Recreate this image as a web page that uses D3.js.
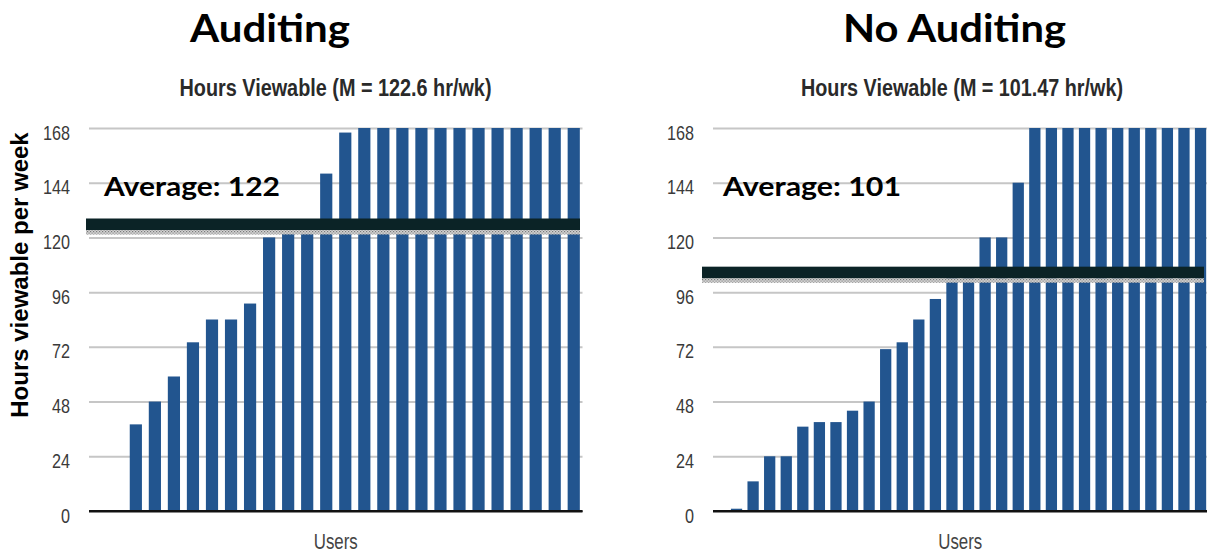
<!DOCTYPE html>
<html>
<head>
<meta charset="utf-8">
<script src="https://cdn.jsdelivr.net/npm/d3@7"></script>
<style>
  html, body { margin: 0; padding: 0; background: #fff; }
  svg { display: block; }
</style>
</head>
<body>
<svg id="chart" width="1207" height="555"></svg>
<script>
// Weekly viewable hours per user, sorted ascending
const auditingHours = [0, 0, 38, 48, 59, 74, 84, 84, 91, 120, 128, 128, 148, 166,
  168, 168, 168, 168, 168, 168, 168, 168, 168, 168, 168, 168];
const noAuditingHours = [0, 1, 13, 24, 24, 37, 39, 39, 44, 48, 71, 74, 84, 93, 103, 103,
  120, 120, 144, 168, 168, 168, 168, 168, 168, 168, 168, 168, 168, 168];

const auditingMean = 122.6;
const noAuditingMean = 101.47;

const panelTitles = ["Auditing", "No Auditing"];
const yTicks = [0, 24, 48, 72, 96, 120, 144, 168];
const yMax = 168;
const yAxisTitle = "Hours viewable per week";
const xAxisTitle = "Users";

const svg = d3.select("#chart");

// Stippled fill used for the original mean line
const defs = svg.append("defs");
const pat = defs.append("pattern")
  .attr("id", "stipple")
  .attr("width", 3).attr("height", 3)
  .attr("patternUnits", "userSpaceOnUse");
pat.append("rect").attr("width", 3).attr("height", 3).attr("fill", "#d2d2d2");
pat.append("rect").attr("x", 0).attr("y", 0).attr("width", 1.2).attr("height", 1.2).attr("fill", "#7a7a7a");
pat.append("rect").attr("x", 1.5).attr("y", 1.5).attr("width", 1.2).attr("height", 1.2).attr("fill", "#8a8a8a");

const y = d3.scaleLinear().domain([0, yMax]).range([511, 128]);

const panels = [
  { title: panelTitles[0], values: auditingHours, mean: auditingMean,
    x0: 89, x1: 582.5, padInner: 0.36, padOuter: 0.14,
    titleX: 270, titleW: 160, subX: 335.5, subW: 312,
    avgX: 104, avgW: 176, bandX0: 86, bandX1: 580 },
  { title: panelTitles[1], values: noAuditingHours, mean: noAuditingMean,
    x0: 713, x1: 1207.5, padInner: 0.32, padOuter: 0.08,
    titleX: 954.5, titleW: 223, subX: 962, subW: 322,
    avgX: 723, avgW: 178, bandX0: 702, bandX1: 1204 }
];

panels.forEach(p => {
  const g = svg.append("g");
  const x = d3.scaleBand()
    .domain(p.values.map((_, i) => i))
    .range([p.x0, p.x1])
    .paddingInner(p.padInner)
    .paddingOuter(p.padOuter);

  // Big panel heading
  g.append("text")
    .attr("x", p.titleX).attr("y", 42)
    .attr("text-anchor", "middle")
    .attr("textLength", p.titleW).attr("lengthAdjust", "spacingAndGlyphs")
    .attr("font-family", "Lato, 'Open Sans', sans-serif")
    .attr("font-weight", "700").attr("font-size", 39)
    .attr("fill", "#000")
    .text(p.title);

  // Chart subtitle
  g.append("text")
    .attr("x", p.subX).attr("y", 96)
    .attr("text-anchor", "middle")
    .attr("textLength", p.subW).attr("lengthAdjust", "spacingAndGlyphs")
    .attr("font-family", "'Liberation Sans', Arial, sans-serif")
    .attr("font-size", 23).attr("font-weight", "700")
    .attr("fill", "#2a2a2a")
    .text(`Hours Viewable (M = ${p.mean} hr/wk)`);

  // Horizontal gridlines and tick labels via a left axis
  const axis = d3.axisLeft(y)
    .tickValues(yTicks)
    .tickSize(-(p.x1 - p.x0))
    .tickPadding(19)
    .tickFormat(d3.format("d"));

  const ax = g.append("g")
    .attr("transform", `translate(${p.x0},0)`)
    .call(axis)
    .attr("font-size", 20)
    .attr("font-family", "'Liberation Sans', Arial, sans-serif");
  ax.select(".domain").remove();
  ax.selectAll(".tick line")
    .attr("stroke", d => d === 0 ? "#111" : "#c6c6c6")
    .attr("stroke-width", 2);
  ax.selectAll(".tick text")
    .attr("dy", "0.7em")
    .attr("y", -3)
    .attr("textLength", d => String(d).length * 9)
    .attr("lengthAdjust", "spacingAndGlyphs")
    .attr("fill", "#3a3a3a");

  // Bars
  g.append("g").selectAll("rect")
    .data(p.values)
    .join("rect")
    .attr("x", (d, i) => x(i))
    .attr("width", x.bandwidth())
    .attr("y", d => y(d))
    .attr("height", d => y(0) - y(d))
    .attr("fill", "#22558f");

  // Redraw the baseline above the bars
  g.append("line")
    .attr("x1", p.x0).attr("x2", p.x1)
    .attr("y1", y(0)).attr("y2", y(0))
    .attr("stroke", "#111").attr("stroke-width", 2);

  // Mean line (stippled) with the heavy average band above it
  const ym = y(p.mean);
  g.append("rect")
    .attr("x", p.bandX0).attr("width", p.bandX1 - p.bandX0)
    .attr("y", ym - 1.5).attr("height", 4.5)
    .attr("fill", "url(#stipple)");
  g.append("rect")
    .attr("x", p.bandX0).attr("width", p.bandX1 - p.bandX0)
    .attr("y", ym - 13).attr("height", 11.5)
    .attr("fill", "#0b2326");

  // Average annotation
  g.append("text")
    .attr("x", p.avgX).attr("y", 196)
    .attr("textLength", p.avgW).attr("lengthAdjust", "spacingAndGlyphs")
    .attr("font-family", "Lato, 'Open Sans', sans-serif")
    .attr("font-weight", "700").attr("font-size", 27)
    .attr("fill", "#000")
    .text(`Average: ${Math.floor(p.mean)}`);

  // X-axis title
  g.append("text")
    .attr("x", (p.x0 + p.x1) / 2).attr("y", 549)
    .attr("text-anchor", "middle")
    .attr("textLength", 44).attr("lengthAdjust", "spacingAndGlyphs")
    .attr("font-family", "'Liberation Sans', Arial, sans-serif")
    .attr("font-size", 22)
    .attr("fill", "#444")
    .text(xAxisTitle);
});

// Shared y-axis title
svg.append("text")
  .attr("transform", "translate(28,275) rotate(-90)")
  .attr("text-anchor", "middle")
  .attr("font-family", "'Liberation Sans', Arial, sans-serif")
  .attr("font-weight", "700").attr("font-size", 24)
  .attr("fill", "#000")
  .text(yAxisTitle);
</script>
</body>
</html>
